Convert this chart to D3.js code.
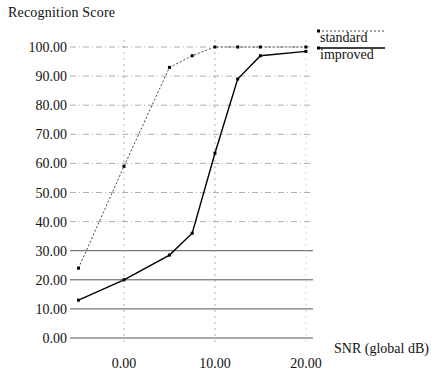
<!DOCTYPE html>
<html>
<head>
<meta charset="utf-8">
<script src="https://cdn.jsdelivr.net/npm/d3@7"></script>
<style>
  body { margin: 0; background: #fff; }
  svg { display: block; font-family: "Liberation Serif", "DejaVu Serif", serif; }
</style>
</head>
<body>
<svg width="435" height="375"></svg>
<script>
'use strict';

// data
const snr = [-5, 0, 5, 7.5, 10, 12.5, 15, 20];
const standard = [24, 59, 93, 97, 100, 100, 100, 100];
const improved = [13, 20, 28.5, 36, 63.5, 89, 97, 98.5];
const seriesNames = ["standard", "improved"];
const yTicks = [0, 10, 20, 30, 40, 50, 60, 70, 80, 90, 100];
const xTicks = [0, 10, 20];

let svg = d3.select("svg");

let x = d3.scaleLinear().domain([-6, 21]).range([69.4, 315]);
let y = d3.scaleLinear().domain([0, 100]).range([338, 47]);

// horizontal grid
let grid = svg.append("g").attr("class", "grid");
grid.selectAll("line.h")
  .data(yTicks)
  .join("line")
    .attr("class", "h")
    .attr("x1", 70).attr("x2", 313)
    .attr("y1", d => y(d)).attr("y2", d => y(d))
    .attr("stroke", d => d <= 30 ? "#555" : "#999")
    .attr("stroke-width", d => d <= 30 ? 1 : 0.8)
    .attr("stroke-dasharray", d => d <= 30 ? null : "6,3,1,3");

// vertical grid
grid.selectAll("line.v")
  .data(xTicks)
  .join("line")
    .attr("class", "v")
    .attr("x1", d => x(d)).attr("x2", d => x(d))
    .attr("y1", 40).attr("y2", 345)
    .attr("stroke", d => d == 20 ? "#ccc" : "#999")
    .attr("stroke-width", 0.8)
    .attr("stroke-dasharray", "2,4");

// y axis labels
svg.append("g")
  .selectAll("text")
  .data(yTicks)
  .join("text")
    .attr("x", 67)
    .attr("y", d => y(d) + 5)
    .attr("text-anchor", "end")
    .attr("font-size", 14)
    .attr("fill", "#111")
    .text(d => d3.format(".2f")(d));

// x axis labels
svg.append("g")
  .selectAll("text")
  .data(xTicks)
  .join("text")
    .attr("x", d => x(d))
    .attr("y", 368)
    .attr("text-anchor", "middle")
    .attr("font-size", 14)
    .attr("fill", "#111")
    .text(d => d3.format(".2f")(d));

svg.append("text")
  .attr("x", 8).attr("y", 17)
  .attr("font-size", 14)
  .attr("letter-spacing", 0.2)
  .attr("fill", "#111")
  .text("Recognition Score");

svg.append("text")
  .attr("x", 334).attr("y", 353)
  .attr("font-size", 14)
  .attr("fill", "#111")
  .text("SNR (global dB)");

let line = d3.line().x(d => x(d[0])).y(d => y(d[1]));

let series = [
  {name: seriesNames[0], values: d3.zip(snr, standard), dash: "2,2", color: "#444", width: 1, ly: 31},
  {name: seriesNames[1], values: d3.zip(snr, improved), dash: null, color: "#000", width: 1.4, ly: 48}
];

series.forEach(s => {
  svg.append("path")
    .datum(s.values)
    .attr("fill", "none")
    .attr("stroke", s.color)
    .attr("stroke-width", s.width)
    .attr("stroke-dasharray", s.dash)
    .attr("d", line);

  svg.append("g")
    .selectAll("rect")
    .data(s.values)
    .join("rect")
      .attr("x", d => x(d[0]) - 1.5)
      .attr("y", d => y(d[1]) - 1.5)
      .attr("width", 3).attr("height", 3)
      .attr("fill", "#000");

  // legend
  svg.append("line")
    .attr("x1", 318).attr("x2", 385)
    .attr("y1", s.ly).attr("y2", s.ly)
    .attr("stroke", s.color)
    .attr("stroke-width", s.width)
    .attr("stroke-dasharray", s.dash);
  svg.append("rect")
    .attr("x", 317).attr("y", s.ly - 1.5)
    .attr("width", 3).attr("height", 3)
    .attr("fill", "#000");
  svg.append("text")
    .attr("x", 320).attr("y", s.ly + 11)
    .attr("font-size", 14)
    .attr("fill", "#111")
    .text(s.name);
});
</script>
</body>
</html>
